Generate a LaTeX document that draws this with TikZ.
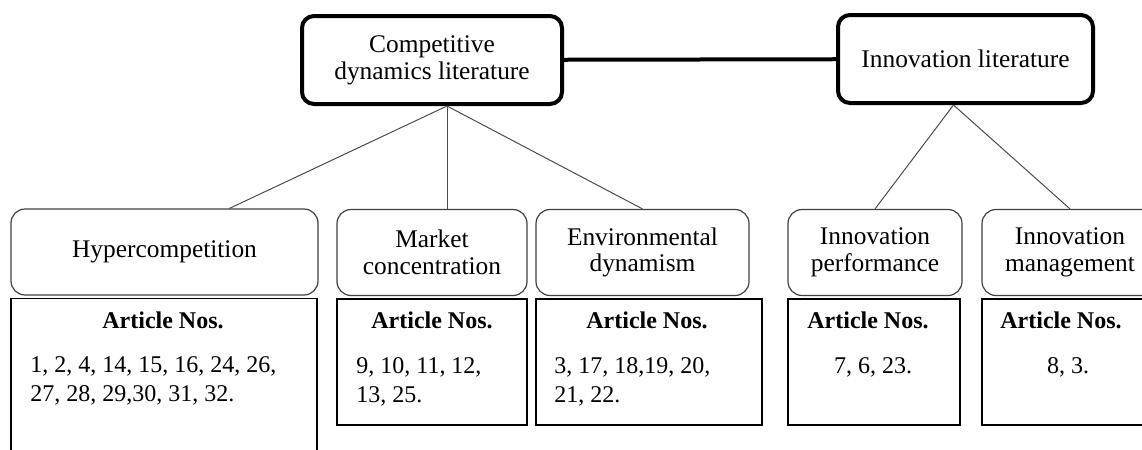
\documentclass[tikz,border=0pt]{standalone}
\usepackage{fontspec}
\setmainfont{Liberation Serif}
\usetikzlibrary{positioning}

\begin{document}
\begin{tikzpicture}[x=0.5pt,y=-0.5pt,
  top node/.style={draw,line width=2pt,rounded corners=6pt,align=center,inner sep=0pt,
    minimum height=44pt,font=\fontsize{12.7}{13.4}\selectfont},
  sub node/.style={draw=black!75,line width=0.6pt,rounded corners=7pt,align=center,inner sep=0pt,
    minimum height=43pt,font=\fontsize{12.7}{13.3}\selectfont},
  list node/.style={draw,line width=0.7pt,inner sep=0pt,minimum height=63pt},
  head node/.style={inner sep=0pt,font=\fontsize{12}{14}\selectfont\bfseries},
  num node/.style={inner sep=0pt,align=left,font=\fontsize{12}{14.25}\selectfont},
  link/.style={draw=black!70,line width=0.5pt}]

  \useasboundingbox (0,0) rectangle (1142,450);

  \node[top node,minimum width=130pt] (1) at (432,60) {Competitive\\dynamics literature};
  \node[top node,minimum width=127.5pt] (2) at (965.5,59) {Innovation literature};
  \coordinate[right=7.5pt of 1.south] (d1);
  \coordinate[left=6pt of 2.south] (d2);

  \node[sub node,minimum width=153.5pt] (3) at (164.5,252) {Hypercompetition};
  \node[sub node,minimum width=95pt] (4) at (432,252.5) {Market\\concentration};
  \node[sub node,minimum width=106.5pt] (5) at (642.5,252.5) {Environmental\\dynamism};
  \node[sub node,minimum width=87pt] (6) at (875,252.5) {Innovation\\performance};
  \node[sub node,minimum width=88pt] (7) at (1070,252.5) {Innovation\\management};
  \coordinate[right=32.5pt of 3.north] (d3);
  \coordinate[right=7.5pt of 4.north] (d4);

  \node[list node,minimum width=153pt,minimum height=90pt,below right=1pt and 0pt of 3.south west] (8) {};
  \node[list node,minimum width=95pt,below right=1pt and 0pt of 4.south west] (9) {};
  \node[list node,minimum width=113pt,below right=1pt and 0pt of 5.south west] (10) {};
  \node[list node,minimum width=86pt,below right=1pt and 0pt of 6.south west] (11) {};
  \node[list node,minimum width=88pt,below right=1pt and 0pt of 7.south west] (12) {};

  \node[head node] (h8) at (163,320) {Article Nos.};
  \node[head node] (h9) at (432,320) {Article Nos.};
  \node[head node] (h10) at (647,320) {Article Nos.};
  \node[head node] (h11) at (868,320) {Article Nos.};
  \node[head node] (h12) at (1061,320) {Article Nos.};

  \node[num node,anchor=west] (n8) at (30,381) {1, 2, 4, 14, 15, 16, 24, 26,\\27, 28, 29,30, 31, 32.};
  \node[num node,anchor=west] (n9) at (356,382) {9, 10, 11, 12,\\13, 25.};
  \node[num node,anchor=west] (n10) at (554,382) {3, 17, 18,19, 20,\\21, 22.};
  \node[num node] (n11) at (873,367) {7, 6, 23.};
  \node[num node] (n12) at (1068,367) {8, 3.};

  \path
  (1)  edge [line width=2pt] (2)

  (d1) edge [link] (d3)
       edge [link] (d4)
       edge [link] (5.north)

  (d2) edge [link] (6.north)
       edge [link] (7.north);
\end{tikzpicture}
\end{document}
